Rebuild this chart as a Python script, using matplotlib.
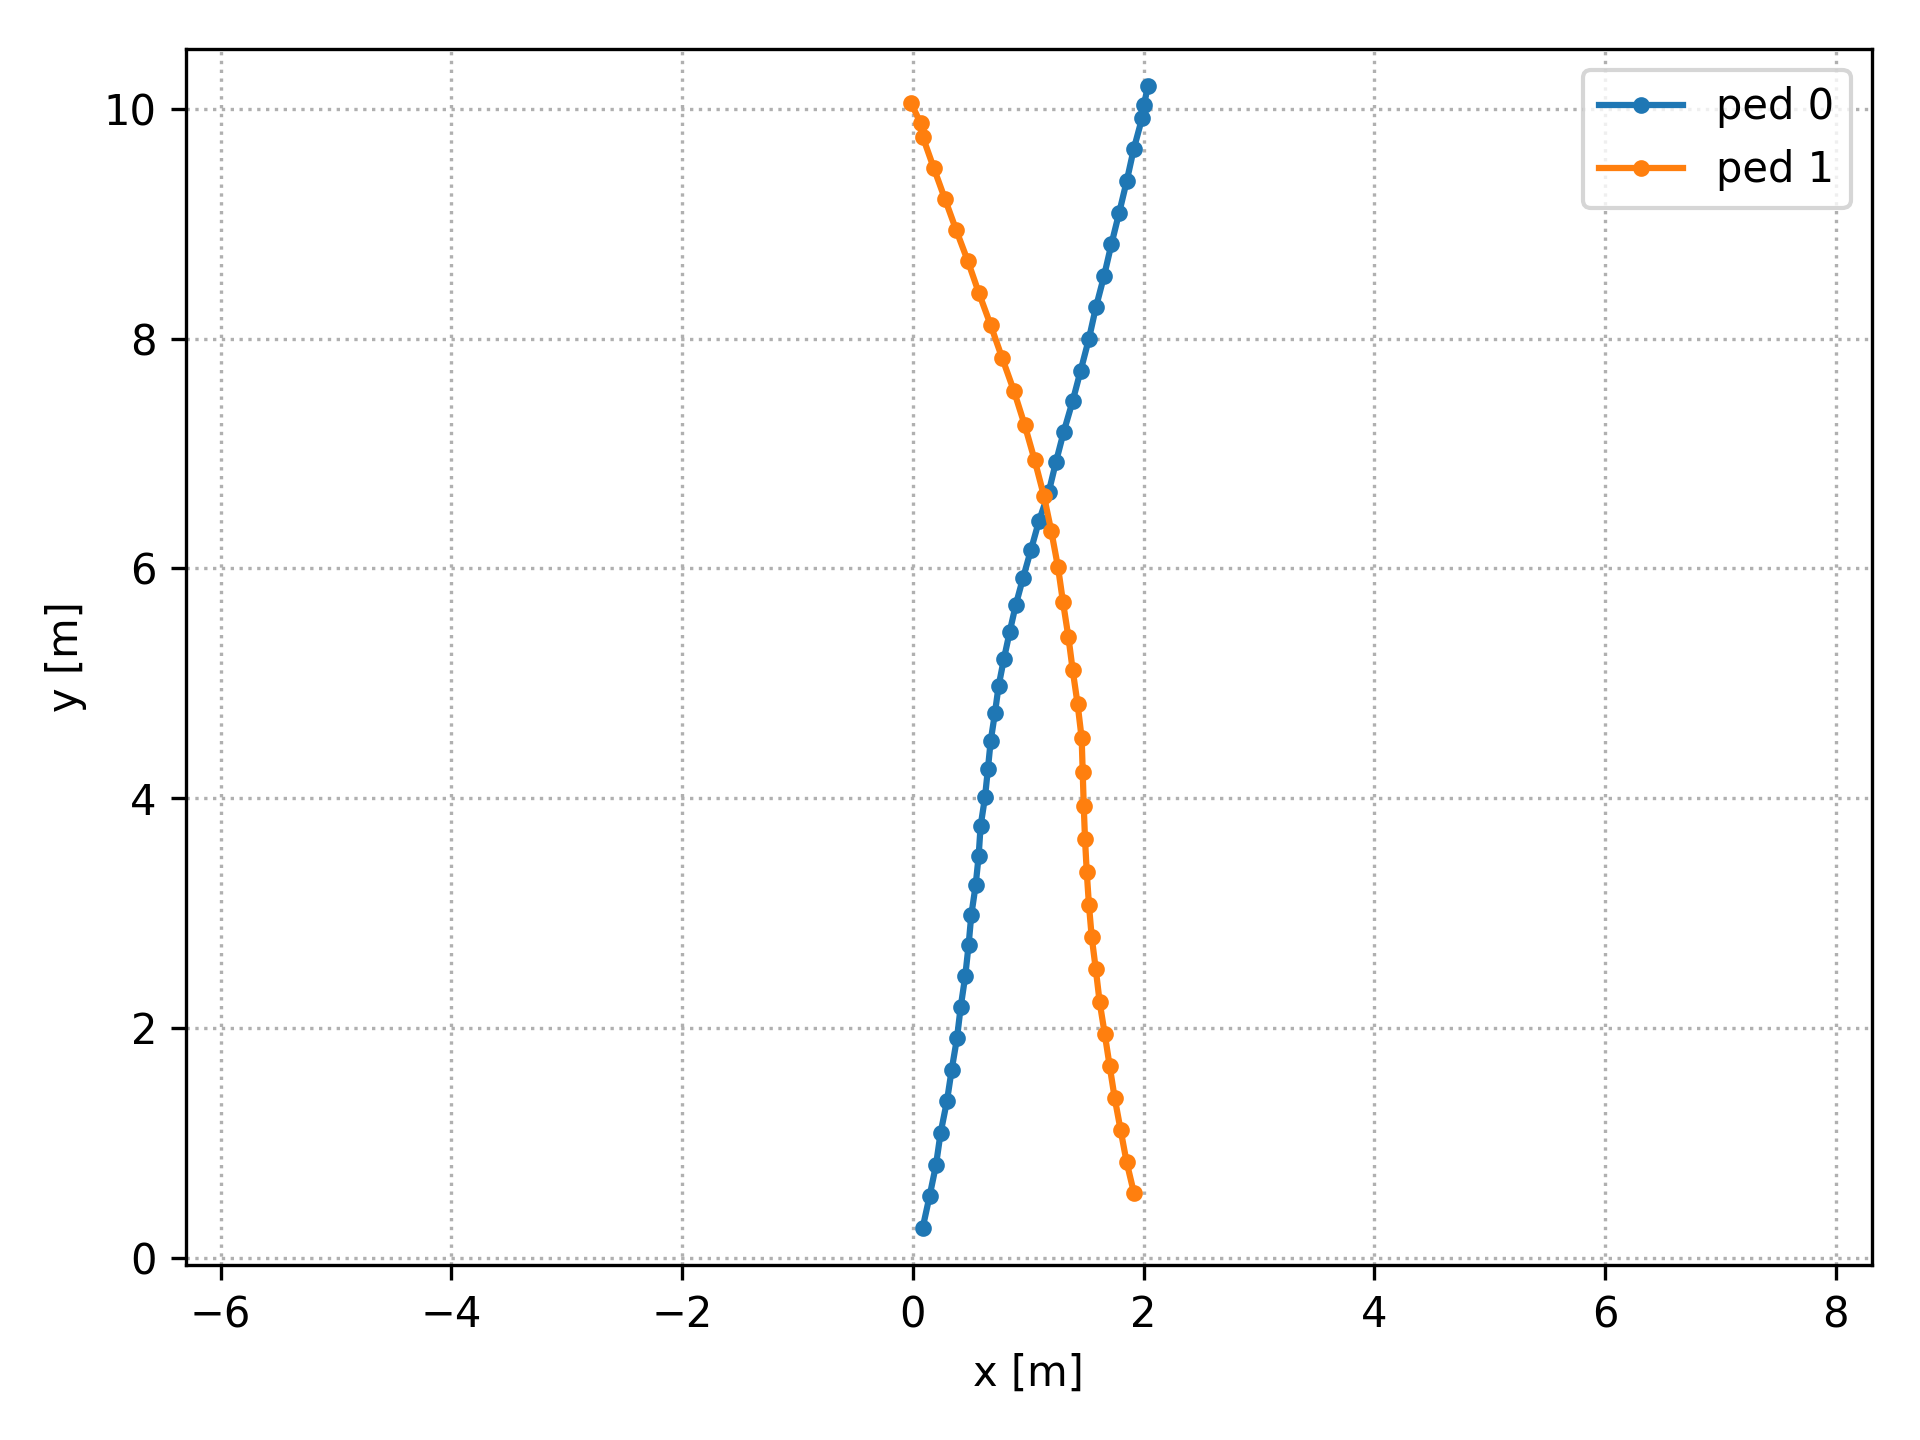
import matplotlib
matplotlib.use('Agg')
import matplotlib.pyplot as plt

# Traiettorie dei due pedoni
ped0_x = [0.084, 0.145, 0.200, 0.240, 0.295, 0.336, 0.382, 0.414, 0.454,
          0.483, 0.506, 0.544, 0.570, 0.587, 0.625, 0.650, 0.674, 0.711, 0.743,
          0.789, 0.839, 0.891, 0.954, 1.023, 1.093, 1.177, 1.240, 1.307, 1.385, 1.454,
          1.526, 1.587, 1.657, 1.721, 1.787, 1.853, 1.914, 1.986, 2.004, 2.036]
ped0_y = [0.256, 0.537, 0.804, 1.085, 1.361, 1.634, 1.909, 2.179, 2.452,
          2.722, 2.980, 3.241, 3.496, 3.757, 4.007, 4.251, 4.494, 4.738, 4.976,
          5.211, 5.446, 5.678, 5.913, 6.159, 6.412, 6.661, 6.925, 7.186, 7.456, 7.720,
          7.998, 8.274, 8.544, 8.822, 9.090, 9.368, 9.647, 9.916, 10.032, 10.198]

ped1_x = [1.917, 1.853, 1.801, 1.749, 1.706, 1.663, 1.619,
          1.585, 1.550, 1.526, 1.507, 1.492, 1.481, 1.472, 1.463, 1.428,
          1.385, 1.348, 1.301, 1.258, 1.200, 1.136, 1.055, 0.969, 0.876,
          0.775, 0.674, 0.572, 0.477, 0.376, 0.278, 0.182, 0.087, 0.067, -0.014]
ped1_y = [0.560, 0.830, 1.109, 1.390, 1.666, 1.947, 2.223,
          2.513, 2.791, 3.070, 3.357, 3.641, 3.931, 4.225, 4.520, 4.816,
          5.115, 5.402, 5.707, 6.009, 6.322, 6.629, 6.943, 7.247, 7.543,
          7.827, 8.117, 8.396, 8.672, 8.942, 9.214, 9.481, 9.751, 9.873, 10.047]

fig, ax = plt.subplots(figsize=(6.4, 4.8), dpi=300)

ax.plot(ped0_x, ped0_y, marker='.', label='ped 0')
ax.plot(ped1_x, ped1_y, marker='.', label='ped 1')

ax.set_xlim(-6.30, 8.31)
ax.set_ylim(-0.064, 10.52)
ax.set_xlabel('x [m]')
ax.set_ylabel('y [m]')
ax.grid(True, linestyle=':')
ax.legend(loc='upper right')

plt.subplots_adjust(left=0.0969, right=0.9748, bottom=0.1215, top=0.966)
plt.savefig('out.png', dpi=300)
